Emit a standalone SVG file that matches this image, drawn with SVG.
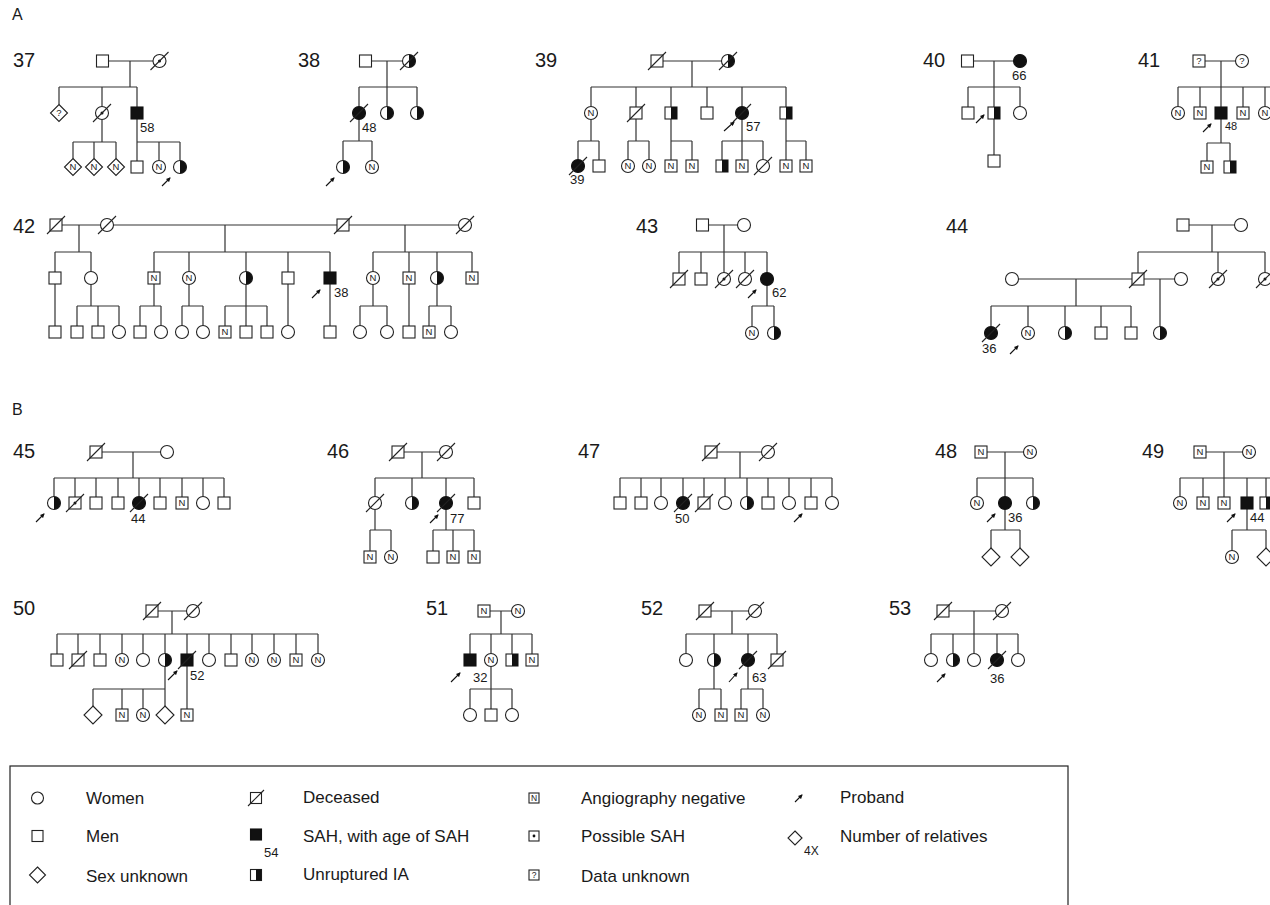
<svg xmlns="http://www.w3.org/2000/svg" xmlns:xlink="http://www.w3.org/1999/xlink" width="1270" height="905" viewBox="0 0 1270 905">
<style>
text{font-family:"Liberation Sans",Arial,sans-serif;fill:#1a1a1a}
.sec{font-size:16px}
.fam{font-size:20px}
.age{font-size:13px}
.age2{font-size:11px}
.n{font-size:9.5px;text-anchor:middle}
.lg{font-size:17px}
.sh{fill:#fff;stroke:#222;stroke-width:1.1}
.fl{fill:#111;stroke:#111;stroke-width:1.1}
.ln{fill:none;stroke:#333;stroke-width:1.2}
.pr{stroke:#111;stroke-width:1.1;marker-end:url(#ah)}
</style>
<defs>
<marker id="ah" viewBox="0 0 10 10" refX="8" refY="5" markerWidth="5" markerHeight="4.5" markerUnits="userSpaceOnUse" orient="auto"><path d="M0,0L10,5L0,10z" fill="#111"/></marker>
<circle id="c" r="6.5" class="sh"/>
<rect id="s" x="-6" y="-6" width="12" height="12" class="sh"/>
<circle id="cf" r="6.5" class="fl"/>
<rect id="sf" x="-6" y="-6" width="12" height="12" class="fl"/>
<g id="ch"><circle r="6.5" class="sh"/><path d="M0,-6.5A6.5,6.5 0 0 1 0,6.5Z" fill="#111"/></g>
<g id="shh"><rect x="-6" y="-6" width="12" height="12" class="sh"/><rect x="0" y="-6" width="6" height="12" fill="#111"/></g>
<path id="d" d="M0,-8.5L8.5,0L0,8.5L-8.5,0Z" class="sh"/>
<path id="D" d="M0,-9L9,0L0,9L-9,0Z" class="sh"/>
<line id="x" x1="-9" y1="9" x2="9" y2="-9" stroke="#222" stroke-width="1.1"/>
<circle id="dot" r="1.5" fill="#111"/>
</defs>
<rect width="1270" height="905" fill="#fff"/>
<text class="sec" x="12" y="20">A</text>
<text class="sec" x="12" y="415">B</text>

<g id="connectors">
<path class="ln" d="M108.5,61H153M130,61V87M59,87H137M59,87V104.5M102,87V106.5M137,87V107M102,119.5V142M73,142H116M73,142V158.5M94,142V158.5M116,142V158.5M137,119V161M137,142H180M159,142V160.5M180,142V160.5"/>
<path class="ln" d="M371.5,61H402.5M387,61V106.5M359,87H417M359,87V106.5M417,87V106.5M359,119.5V141M343,141H372M343,141V160.5M372,141V160.5"/>
<path class="ln" d="M663,61H721.5M692,61V87M591,87H786M591,87V106.5M636,87V107M671,87V107M707,87V107M742,87V106.5M786,87V107M591,119.5V141M578,141H599M578,141V159.5M599,141V160M636,119V141M628,141H649M628,141V159.5M649,141V159.5M671,119V160M671,141H692M692,141V160M742,119.5V160M722,141H763M722,141V160M763,141V159.5M786,119V160M786,141H806M806,141V160"/>
<path class="ln" d="M973.5,61H1013.5M994,61V107M968,87H1020M968,87V107M1020,87V106.5M994,119V155"/>
<path class="ln" d="M1205,61H1235.5M1221,61V107M1178,87H1270M1178,87V106.5M1200,87V107M1243,87V107M1265,87V106.5M1221,119V143M1207,143H1230M1207,143V161M1230,143V161"/>
<path class="ln" d="M62,225H100.5M113.5,225H337M349,225H458.5M79,225V252M225,225V252M405,225V252M55,252H91M55,252V272M91,252V271.5M154,252H330M154,252V272M189,252V271.5M246,252V271.5M288,252V272M330,252V272M373,252H472M373,252V271.5M409,252V272M437,252V271.5M472,252V272M55,284V326M91,284.5V306M77,306H119M77,306V326M98,306V326M119,306V325.5M154,284V306M140,306H161M140,306V326M161,306V325.5M189,284.5V306M182,306H203M182,306V325.5M203,306V325.5M246,284.5V326M225,306H267M225,306V326M267,306V326M288,284V325.5M330,284V326M373,284.5V306M360,306H387M360,306V325.5M387,306V325.5M409,284V326M437,284.5V306M429,306H451M429,306V326M451,306V325.5"/>
<path class="ln" d="M708.5,225H737.5M724,225V272.5M679,252H767M679,252V273M701,252V273M745,252V272.5M767,252V272.5M767,285.5V306M752,306H774M752,306V326.5M774,306V326.5"/>
<path class="ln" d="M1189,225H1234.5M1212,225V252M1138,252H1265M1138,252V273M1218,252V272.5M1265,252V272.5M1018.5,279H1132M1076,279V306M991,306H1131M991,306V326.5M1028,306V326.5M1065,306V326.5M1101,306V327M1131,306V327M1144,279H1174.5M1160,279V326.5"/>
<path class="ln" d="M102,452H160.5M133,452V478M54,478H224M54,478V496.5M75,478V497M96,478V497M118,478V497M139,478V496.5M160,478V497M182,478V497M203,478V496.5M224,478V497"/>
<path class="ln" d="M404,452H439.5M422,452V478M375,478H474M375,478V496.5M412,478V496.5M446,478V496.5M474,478V497M375,509.5V530M370,530H391M370,530V551M391,530V550.5M446,509.5V530M433,530H474M433,530V551M453,530V551M474,530V551"/>
<path class="ln" d="M717,452H761.5M740,452V478M620,478H832M620,478V497M641,478V497M661,478V496.5M683,478V496.5M704,478V497M725,478V496.5M747,478V496.5M768,478V497M789,478V496.5M811,478V497M832,478V496.5"/>
<path class="ln" d="M987,452H1023.5M1005,452V496.5M977,478H1033M977,478V496.5M1033,478V496.5M1005,509.5V530M991,530H1020M991,530V548M1020,530V548"/>
<path class="ln" d="M1206,452H1242.5M1224,452V497M1180,478H1270M1180,478V496.5M1203,478V497M1247,478V497M1266,478V497M1247,509V530M1232,530H1266M1232,530V550.5M1266,530V548"/>
<path class="ln" d="M158,611H186.5M172,611V634M57,634H318M57,634V654M78,634V654M100,634V654M122,634V653.5M143,634V653.5M165,634V653.5M187,634V654M209,634V653.5M231,634V654M252,634V653.5M274,634V653.5M296,634V654M318,634V653.5M165,666.5V706M93,689H165M93,689V706M122,689V709M143,689V708.5M187,666V709"/>
<path class="ln" d="M490,611H511.5M501,611V634M470,634H532M470,634V654M491,634V653.5M512,634V654M532,634V654M491,666.5V709M470,689H512M470,689V708.5M512,689V708.5"/>
<path class="ln" d="M711,611H748.5M732,611V634M686,634H777M686,634V653.5M714,634V653.5M748,634V653.5M777,634V654M714,666.5V689M699,689H721M699,689V708.5M721,689V709M748,666.5V689M741,689H763M741,689V709M763,689V708.5"/>
<path class="ln" d="M949,611H995.5M974,611V653.5M931,634H1018M931,634V653.5M953,634V653.5M997,634V653.5M1018,634V653.5"/>
</g>

<g id="probands">
<line class="pr" x1="162" y1="186" x2="170" y2="178"/>
<line class="pr" x1="326" y1="186" x2="334" y2="178"/>
<line class="pr" x1="724" y1="131" x2="734" y2="122"/>
<line class="pr" x1="976" y1="123" x2="984" y2="115"/>
<line class="pr" x1="1203" y1="132" x2="1211" y2="124"/>
<line class="pr" x1="312" y1="298" x2="320" y2="290"/>
<line class="pr" x1="748" y1="298" x2="756" y2="290"/>
<line class="pr" x1="1010" y1="354" x2="1018" y2="346"/>
<line class="pr" x1="36" y1="522" x2="44" y2="514"/>
<line class="pr" x1="430" y1="523" x2="438" y2="515"/>
<line class="pr" x1="794" y1="522" x2="802" y2="514"/>
<line class="pr" x1="987" y1="522" x2="995" y2="514"/>
<line class="pr" x1="1227" y1="522" x2="1235" y2="514"/>
<line class="pr" x1="168" y1="680" x2="177" y2="671"/>
<line class="pr" x1="451" y1="682" x2="460" y2="673"/>
<line class="pr" x1="729" y1="682" x2="737" y2="673"/>
<line class="pr" x1="937" y1="682" x2="945" y2="674"/>
</g>

<g id="labels">
<text class="fam" x="13" y="67">37</text><text class="age" x="140" y="132">58</text>
<text class="fam" x="298" y="67">38</text><text class="age" x="362" y="132">48</text>
<text class="fam" x="535" y="67">39</text><text class="age" x="746" y="131">57</text><text class="age" x="570" y="184">39</text>
<text class="fam" x="923" y="67">40</text><text class="age" x="1012" y="80">66</text>
<text class="fam" x="1138" y="67">41</text><text class="age2" x="1225" y="130">48</text>
<text class="fam" x="13" y="233">42</text><text class="age" x="334" y="297">38</text>
<text class="fam" x="636" y="233">43</text><text class="age" x="772" y="297">62</text>
<text class="fam" x="946" y="233">44</text><text class="age" x="982" y="353">36</text>
<text class="fam" x="13" y="458">45</text><text class="age" x="131" y="523">44</text>
<text class="fam" x="327" y="458">46</text><text class="age" x="450" y="523">77</text>
<text class="fam" x="578" y="458">47</text><text class="age" x="675" y="523">50</text>
<text class="fam" x="935" y="458">48</text><text class="age" x="1008" y="522">36</text>
<text class="fam" x="1142" y="458">49</text><text class="age" x="1250" y="522">44</text>
<text class="fam" x="13" y="615">50</text><text class="age" x="190" y="680">52</text>
<text class="fam" x="426" y="615">51</text><text class="age" x="473" y="682">32</text>
<text class="fam" x="641" y="615">52</text><text class="age" x="752" y="682">63</text>
<text class="fam" x="889" y="615">53</text><text class="age" x="990" y="683">36</text>
</g>

<!-- Family 37 -->
<g id="n37-1" transform="translate(102.5,61)"><use href="#s"/></g>
<g id="n37-2" transform="translate(159.5,61)"><use href="#c"/><use href="#dot"/><use href="#x"/></g>
<g id="n37-3" transform="translate(59,113)"><use href="#d"/><text class="n" y="3.3">?</text></g>
<g id="n37-4" transform="translate(102,113)"><use href="#c"/><use href="#dot"/><use href="#x"/></g>
<g id="n37-5" transform="translate(137,113)"><use href="#sf"/></g>
<g id="n37-6" transform="translate(73,167)"><use href="#d"/><text class="n" y="3.4">N</text></g>
<g id="n37-7" transform="translate(94,167)"><use href="#d"/><text class="n" y="3.4">N</text></g>
<g id="n37-8" transform="translate(116,167)"><use href="#d"/><text class="n" y="3.4">N</text></g>
<g id="n37-9" transform="translate(137,167)"><use href="#s"/></g>
<g id="n37-10" transform="translate(159,167)"><use href="#c"/><text class="n" y="3.4">N</text></g>
<g id="n37-11" transform="translate(180,167)"><use href="#ch"/></g>
<!-- Family 38 -->
<g id="n38-1" transform="translate(365.5,61)"><use href="#s"/></g>
<g id="n38-2" transform="translate(409,61)"><use href="#ch"/><use href="#x"/></g>
<g id="n38-3" transform="translate(359,113)"><use href="#cf"/><use href="#x"/></g>
<g id="n38-4" transform="translate(387,113)"><use href="#ch"/></g>
<g id="n38-5" transform="translate(417,113)"><use href="#ch"/></g>
<g id="n38-6" transform="translate(343,167)"><use href="#ch"/></g>
<g id="n38-7" transform="translate(372,167)"><use href="#c"/><text class="n" y="3.4">N</text></g>
<!-- Family 39 -->
<g id="n39-1" transform="translate(657,61)"><use href="#s"/><use href="#x"/></g>
<g id="n39-2" transform="translate(728,61)"><use href="#ch"/><use href="#x"/></g>
<g id="n39-3" transform="translate(591,113)"><use href="#c"/><text class="n" y="3.4">N</text></g>
<g id="n39-4" transform="translate(636,113)"><use href="#s"/><use href="#x"/></g>
<g id="n39-5" transform="translate(671,113)"><use href="#shh"/></g>
<g id="n39-6" transform="translate(707,113)"><use href="#s"/></g>
<g id="n39-7" transform="translate(742,113)"><use href="#cf"/><use href="#x"/></g>
<g id="n39-8" transform="translate(786,113)"><use href="#shh"/></g>
<g id="n39-9" transform="translate(578,166)"><use href="#cf"/><use href="#x"/></g>
<g id="n39-10" transform="translate(599,166)"><use href="#s"/></g>
<g id="n39-11" transform="translate(628,166)"><use href="#c"/><text class="n" y="3.4">N</text></g>
<g id="n39-12" transform="translate(649,166)"><use href="#c"/><text class="n" y="3.4">N</text></g>
<g id="n39-13" transform="translate(671,166)"><use href="#s"/><text class="n" y="3.4">N</text></g>
<g id="n39-14" transform="translate(692,166)"><use href="#s"/><text class="n" y="3.4">N</text></g>
<g id="n39-15" transform="translate(722,166)"><use href="#shh"/></g>
<g id="n39-16" transform="translate(742,166)"><use href="#s"/><text class="n" y="3.4">N</text></g>
<g id="n39-17" transform="translate(763,166)"><use href="#c"/><use href="#x"/></g>
<g id="n39-18" transform="translate(786,166)"><use href="#s"/><text class="n" y="3.4">N</text></g>
<g id="n39-19" transform="translate(806,166)"><use href="#s"/><text class="n" y="3.4">N</text></g>
<!-- Family 40 -->
<g id="n40-1" transform="translate(967.5,61)"><use href="#s"/></g>
<g id="n40-2" transform="translate(1020,61)"><use href="#cf"/></g>
<g id="n40-3" transform="translate(968,113)"><use href="#s"/></g>
<g id="n40-4" transform="translate(994,113)"><use href="#shh"/></g>
<g id="n40-5" transform="translate(1020,113)"><use href="#c"/></g>
<g id="n40-6" transform="translate(994,161)"><use href="#s"/></g>
<!-- Family 41 -->
<g id="n41-1" transform="translate(1199,61)"><use href="#s"/><text class="n" y="3.3">?</text></g>
<g id="n41-2" transform="translate(1242,61)"><use href="#c"/><text class="n" y="3.3">?</text></g>
<g id="n41-3" transform="translate(1178,113)"><use href="#c"/><text class="n" y="3.4">N</text></g>
<g id="n41-4" transform="translate(1200,113)"><use href="#s"/><text class="n" y="3.4">N</text></g>
<g id="n41-5" transform="translate(1221,113)"><use href="#sf"/></g>
<g id="n41-6" transform="translate(1243,113)"><use href="#s"/><text class="n" y="3.4">N</text></g>
<g id="n41-7" transform="translate(1265,113)"><use href="#c"/><text class="n" y="3.4">N</text></g>
<g id="n41-8" transform="translate(1207,167)"><use href="#s"/><text class="n" y="3.4">N</text></g>
<g id="n41-9" transform="translate(1230,167)"><use href="#shh"/></g>
<!-- Family 42 -->
<g id="n42-1" transform="translate(56,225)"><use href="#s"/><use href="#x"/></g>
<g id="n42-2" transform="translate(107,225)"><use href="#c"/><use href="#x"/></g>
<g id="n42-3" transform="translate(343,225)"><use href="#s"/><use href="#x"/></g>
<g id="n42-4" transform="translate(465,225)"><use href="#c"/><use href="#x"/></g>
<g id="n42-5" transform="translate(55,278)"><use href="#s"/></g>
<g id="n42-6" transform="translate(91,278)"><use href="#c"/></g>
<g id="n42-7" transform="translate(154,278)"><use href="#s"/><text class="n" y="3.4">N</text></g>
<g id="n42-8" transform="translate(189,278)"><use href="#c"/><text class="n" y="3.4">N</text></g>
<g id="n42-9" transform="translate(246,278)"><use href="#ch"/></g>
<g id="n42-10" transform="translate(288,278)"><use href="#s"/></g>
<g id="n42-11" transform="translate(330,278)"><use href="#sf"/></g>
<g id="n42-12" transform="translate(373,278)"><use href="#c"/><text class="n" y="3.4">N</text></g>
<g id="n42-13" transform="translate(409,278)"><use href="#s"/><text class="n" y="3.4">N</text></g>
<g id="n42-14" transform="translate(437,278)"><use href="#ch"/></g>
<g id="n42-15" transform="translate(472,278)"><use href="#s"/><text class="n" y="3.4">N</text></g>
<g id="n42-16" transform="translate(55,332)"><use href="#s"/></g>
<g id="n42-17" transform="translate(77,332)"><use href="#s"/></g>
<g id="n42-18" transform="translate(98,332)"><use href="#s"/></g>
<g id="n42-19" transform="translate(119,332)"><use href="#c"/></g>
<g id="n42-20" transform="translate(140,332)"><use href="#s"/></g>
<g id="n42-21" transform="translate(161,332)"><use href="#c"/></g>
<g id="n42-22" transform="translate(182,332)"><use href="#c"/></g>
<g id="n42-23" transform="translate(203,332)"><use href="#c"/></g>
<g id="n42-24" transform="translate(225,332)"><use href="#s"/><text class="n" y="3.4">N</text></g>
<g id="n42-25" transform="translate(246,332)"><use href="#s"/></g>
<g id="n42-26" transform="translate(267,332)"><use href="#s"/></g>
<g id="n42-27" transform="translate(288,332)"><use href="#c"/></g>
<g id="n42-28" transform="translate(330,332)"><use href="#s"/></g>
<g id="n42-29" transform="translate(360,332)"><use href="#c"/></g>
<g id="n42-30" transform="translate(387,332)"><use href="#c"/></g>
<g id="n42-31" transform="translate(409,332)"><use href="#s"/></g>
<g id="n42-32" transform="translate(429,332)"><use href="#s"/><text class="n" y="3.4">N</text></g>
<g id="n42-33" transform="translate(451,332)"><use href="#c"/></g>
<!-- Family 43 -->
<g id="n43-1" transform="translate(702.5,225)"><use href="#s"/></g>
<g id="n43-2" transform="translate(744,225)"><use href="#c"/></g>
<g id="n43-3" transform="translate(679,279)"><use href="#s"/><use href="#x"/></g>
<g id="n43-4" transform="translate(701,279)"><use href="#s"/></g>
<g id="n43-5" transform="translate(724,279)"><use href="#c"/><use href="#dot"/><use href="#x"/></g>
<g id="n43-6" transform="translate(745,279)"><use href="#c"/><use href="#x"/></g>
<g id="n43-7" transform="translate(767,279)"><use href="#cf"/></g>
<g id="n43-8" transform="translate(752,333)"><use href="#c"/><text class="n" y="3.4">N</text></g>
<g id="n43-9" transform="translate(774,333)"><use href="#ch"/></g>
<!-- Family 44 -->
<g id="n44-1" transform="translate(1183,225)"><use href="#s"/></g>
<g id="n44-2" transform="translate(1241,225)"><use href="#c"/></g>
<g id="n44-3" transform="translate(1012,279)"><use href="#c"/></g>
<g id="n44-4" transform="translate(1138,279)"><use href="#s"/><use href="#x"/></g>
<g id="n44-5" transform="translate(1181,279)"><use href="#c"/></g>
<g id="n44-6" transform="translate(1218,279)"><use href="#c"/><use href="#dot"/><use href="#x"/></g>
<g id="n44-7" transform="translate(1265,279)"><use href="#c"/><use href="#dot"/><use href="#x"/></g>
<g id="n44-8" transform="translate(991,333)"><use href="#cf"/><use href="#x"/></g>
<g id="n44-9" transform="translate(1028,333)"><use href="#c"/><text class="n" y="3.4">N</text></g>
<g id="n44-10" transform="translate(1065,333)"><use href="#ch"/></g>
<g id="n44-11" transform="translate(1101,333)"><use href="#s"/></g>
<g id="n44-12" transform="translate(1131,333)"><use href="#s"/></g>
<g id="n44-13" transform="translate(1160,333)"><use href="#ch"/></g>
<!-- Family 45 -->
<g id="n45-1" transform="translate(96,452)"><use href="#s"/><use href="#x"/></g>
<g id="n45-2" transform="translate(167,452)"><use href="#c"/></g>
<g id="n45-3" transform="translate(54,503)"><use href="#ch"/></g>
<g id="n45-4" transform="translate(75,503)"><use href="#s"/><use href="#dot"/><use href="#x"/></g>
<g id="n45-5" transform="translate(96,503)"><use href="#s"/></g>
<g id="n45-6" transform="translate(118,503)"><use href="#s"/></g>
<g id="n45-7" transform="translate(139,503)"><use href="#cf"/><use href="#x"/></g>
<g id="n45-8" transform="translate(160,503)"><use href="#s"/></g>
<g id="n45-9" transform="translate(182,503)"><use href="#s"/><text class="n" y="3.4">N</text></g>
<g id="n45-10" transform="translate(203,503)"><use href="#c"/></g>
<g id="n45-11" transform="translate(224,503)"><use href="#s"/></g>
<!-- Family 46 -->
<g id="n46-1" transform="translate(398,452)"><use href="#s"/><use href="#x"/></g>
<g id="n46-2" transform="translate(446,452)"><use href="#c"/><use href="#x"/></g>
<g id="n46-3" transform="translate(375,503)"><use href="#c"/><use href="#x"/></g>
<g id="n46-4" transform="translate(412,503)"><use href="#ch"/></g>
<g id="n46-5" transform="translate(446,503)"><use href="#cf"/><use href="#x"/></g>
<g id="n46-6" transform="translate(474,503)"><use href="#s"/></g>
<g id="n46-7" transform="translate(370,557)"><use href="#s"/><text class="n" y="3.4">N</text></g>
<g id="n46-8" transform="translate(391,557)"><use href="#c"/><text class="n" y="3.4">N</text></g>
<g id="n46-9" transform="translate(433,557)"><use href="#s"/></g>
<g id="n46-10" transform="translate(453,557)"><use href="#s"/><text class="n" y="3.4">N</text></g>
<g id="n46-11" transform="translate(474,557)"><use href="#s"/><text class="n" y="3.4">N</text></g>
<!-- Family 47 -->
<g id="n47-1" transform="translate(711,452)"><use href="#s"/><use href="#x"/></g>
<g id="n47-2" transform="translate(768,452)"><use href="#c"/><use href="#x"/></g>
<g id="n47-3" transform="translate(620,503)"><use href="#s"/></g>
<g id="n47-4" transform="translate(641,503)"><use href="#s"/></g>
<g id="n47-5" transform="translate(661,503)"><use href="#c"/></g>
<g id="n47-6" transform="translate(683,503)"><use href="#cf"/><use href="#x"/></g>
<g id="n47-7" transform="translate(704,503)"><use href="#s"/><use href="#x"/></g>
<g id="n47-8" transform="translate(725,503)"><use href="#c"/></g>
<g id="n47-9" transform="translate(747,503)"><use href="#ch"/></g>
<g id="n47-10" transform="translate(768,503)"><use href="#s"/></g>
<g id="n47-11" transform="translate(789,503)"><use href="#c"/></g>
<g id="n47-12" transform="translate(811,503)"><use href="#s"/></g>
<g id="n47-13" transform="translate(832,503)"><use href="#c"/></g>
<!-- Family 48 -->
<g id="n48-1" transform="translate(981,452)"><use href="#s"/><text class="n" y="3.4">N</text></g>
<g id="n48-2" transform="translate(1030,452)"><use href="#c"/><text class="n" y="3.4">N</text></g>
<g id="n48-3" transform="translate(977,503)"><use href="#c"/><text class="n" y="3.4">N</text></g>
<g id="n48-4" transform="translate(1005,503)"><use href="#cf"/></g>
<g id="n48-5" transform="translate(1033,503)"><use href="#ch"/></g>
<g id="n48-6" transform="translate(991,557)"><use href="#D"/></g>
<g id="n48-7" transform="translate(1020,557)"><use href="#D"/></g>
<!-- Family 49 -->
<g id="n49-1" transform="translate(1200,452)"><use href="#s"/><text class="n" y="3.4">N</text></g>
<g id="n49-2" transform="translate(1249,452)"><use href="#c"/><text class="n" y="3.4">N</text></g>
<g id="n49-3" transform="translate(1180,503)"><use href="#c"/><text class="n" y="3.4">N</text></g>
<g id="n49-4" transform="translate(1203,503)"><use href="#s"/><text class="n" y="3.4">N</text></g>
<g id="n49-5" transform="translate(1224,503)"><use href="#s"/><text class="n" y="3.4">N</text></g>
<g id="n49-6" transform="translate(1247,503)"><use href="#sf"/></g>
<g id="n49-7" transform="translate(1266,503)"><use href="#shh"/></g>
<g id="n49-8" transform="translate(1232,557)"><use href="#c"/><text class="n" y="3.4">N</text></g>
<g id="n49-9" transform="translate(1266,557)"><use href="#D"/></g>
<!-- Family 50 -->
<g id="n50-1" transform="translate(152,611)"><use href="#s"/><use href="#x"/></g>
<g id="n50-2" transform="translate(193,611)"><use href="#c"/><use href="#x"/></g>
<g id="n50-3" transform="translate(57,660)"><use href="#s"/></g>
<g id="n50-4" transform="translate(78,660)"><use href="#s"/><use href="#x"/></g>
<g id="n50-5" transform="translate(100,660)"><use href="#s"/></g>
<g id="n50-6" transform="translate(122,660)"><use href="#c"/><text class="n" y="3.4">N</text></g>
<g id="n50-7" transform="translate(143,660)"><use href="#c"/></g>
<g id="n50-8" transform="translate(165,660)"><use href="#ch"/></g>
<g id="n50-9" transform="translate(187,660)"><use href="#sf"/><use href="#x"/></g>
<g id="n50-10" transform="translate(209,660)"><use href="#c"/></g>
<g id="n50-11" transform="translate(231,660)"><use href="#s"/></g>
<g id="n50-12" transform="translate(252,660)"><use href="#c"/><text class="n" y="3.4">N</text></g>
<g id="n50-13" transform="translate(274,660)"><use href="#c"/><text class="n" y="3.4">N</text></g>
<g id="n50-14" transform="translate(296,660)"><use href="#s"/><text class="n" y="3.4">N</text></g>
<g id="n50-15" transform="translate(318,660)"><use href="#c"/><text class="n" y="3.4">N</text></g>
<g id="n50-16" transform="translate(93,715)"><use href="#D"/></g>
<g id="n50-17" transform="translate(122,715)"><use href="#s"/><text class="n" y="3.4">N</text></g>
<g id="n50-18" transform="translate(143,715)"><use href="#c"/><text class="n" y="3.4">N</text></g>
<g id="n50-19" transform="translate(165,715)"><use href="#D"/></g>
<g id="n50-20" transform="translate(187,715)"><use href="#s"/><text class="n" y="3.4">N</text></g>
<!-- Family 51 -->
<g id="n51-1" transform="translate(484,611)"><use href="#s"/><text class="n" y="3.4">N</text></g>
<g id="n51-2" transform="translate(518,611)"><use href="#c"/><text class="n" y="3.4">N</text></g>
<g id="n51-3" transform="translate(470,660)"><use href="#sf"/></g>
<g id="n51-4" transform="translate(491,660)"><use href="#c"/><text class="n" y="3.4">N</text></g>
<g id="n51-5" transform="translate(512,660)"><use href="#shh"/></g>
<g id="n51-6" transform="translate(532,660)"><use href="#s"/><text class="n" y="3.4">N</text></g>
<g id="n51-7" transform="translate(470,715)"><use href="#c"/></g>
<g id="n51-8" transform="translate(491,715)"><use href="#s"/></g>
<g id="n51-9" transform="translate(512,715)"><use href="#c"/></g>
<!-- Family 52 -->
<g id="n52-1" transform="translate(705,611)"><use href="#s"/><use href="#x"/></g>
<g id="n52-2" transform="translate(755,611)"><use href="#c"/><use href="#x"/></g>
<g id="n52-3" transform="translate(686,660)"><use href="#c"/></g>
<g id="n52-4" transform="translate(714,660)"><use href="#ch"/></g>
<g id="n52-5" transform="translate(748,660)"><use href="#cf"/><use href="#x"/></g>
<g id="n52-6" transform="translate(777,660)"><use href="#s"/><use href="#x"/></g>
<g id="n52-7" transform="translate(699,715)"><use href="#c"/><text class="n" y="3.4">N</text></g>
<g id="n52-8" transform="translate(721,715)"><use href="#s"/><text class="n" y="3.4">N</text></g>
<g id="n52-9" transform="translate(741,715)"><use href="#s"/><text class="n" y="3.4">N</text></g>
<g id="n52-10" transform="translate(763,715)"><use href="#c"/><text class="n" y="3.4">N</text></g>
<!-- Family 53 -->
<g id="n53-1" transform="translate(943,611)"><use href="#s"/><use href="#x"/></g>
<g id="n53-2" transform="translate(1002,611)"><use href="#c"/><use href="#x"/></g>
<g id="n53-3" transform="translate(931,660)"><use href="#c"/></g>
<g id="n53-4" transform="translate(953,660)"><use href="#ch"/></g>
<g id="n53-5" transform="translate(974,660)"><use href="#c"/></g>
<g id="n53-6" transform="translate(997,660)"><use href="#cf"/><use href="#x"/></g>
<g id="n53-7" transform="translate(1018,660)"><use href="#c"/></g>

<!-- Legend -->
<g id="legend">
<rect x="10" y="766" width="1058" height="160" fill="none" stroke="#222" stroke-width="1.2"/>
<circle cx="37.5" cy="798" r="6" class="sh"/>
<rect x="32" y="830.5" width="11" height="11" class="sh"/>
<path d="M37.5,867L45.5,875L37.5,883L29.5,875Z" class="sh"/>
<rect x="250.5" y="792.5" width="11" height="11" class="sh"/>
<line x1="248" y1="806" x2="264" y2="790" stroke="#222" stroke-width="1.1"/>
<rect x="250.5" y="829" width="11" height="11" class="fl"/>
<text class="age" x="264" y="857">54</text>
<rect x="250.5" y="869.5" width="11" height="11" class="sh"/>
<rect x="256" y="869.5" width="5.5" height="11" fill="#111"/>
<rect x="529" y="793" width="10" height="10" class="sh"/><text class="n" x="534" y="801.3" style="font-size:8.5px">N</text>
<rect x="529" y="831" width="10" height="10" class="sh"/><circle cx="534" cy="836" r="1.4" fill="#111"/>
<rect x="529" y="870" width="10" height="10" class="sh"/><text class="n" x="534" y="878.3" style="font-size:8.5px">?</text>
<line class="pr" x1="795" y1="802" x2="802" y2="795"/>
<path d="M795,831L802,838L795,845L788,838Z" class="sh"/>
<text x="804" y="855" style="font-size:12px">4X</text>
<text class="lg" x="86" y="804">Women</text>
<text class="lg" x="86" y="842">Men</text>
<text class="lg" x="86" y="882">Sex unknown</text>
<text class="lg" x="303" y="803">Deceased</text>
<text class="lg" x="303" y="842">SAH, with age of SAH</text>
<text class="lg" x="303" y="880">Unruptured IA</text>
<text class="lg" x="581" y="804">Angiography negative</text>
<text class="lg" x="581" y="842">Possible SAH</text>
<text class="lg" x="581" y="882">Data unknown</text>
<text class="lg" x="840" y="803">Proband</text>
<text class="lg" x="840" y="842">Number of relatives</text>
</g>
</svg>
